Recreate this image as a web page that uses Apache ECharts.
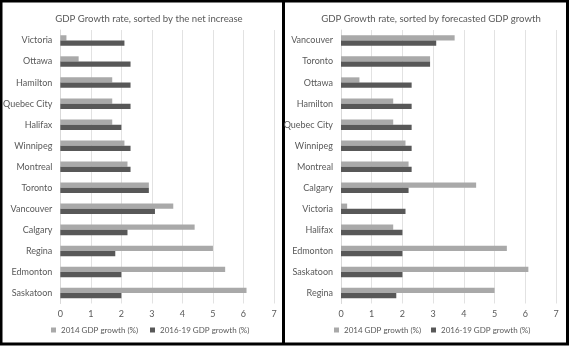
<!DOCTYPE html>
<html>
<head>
<meta charset="utf-8">
<script src="https://cdn.jsdelivr.net/npm/echarts@6/dist/echarts.min.js"></script>
<style>
  html, body { margin: 0; padding: 0; background: #fff; }
  #chart { width: 570px; height: 348px; }
</style>
</head>
<body>
<div id="chart"></div>
<script>
// City GDP growth: 2014 actual vs 2016-19 forecast, two sort orders
const seriesNames = ['2014 GDP growth (%)', '2016-19 GDP growth (%)'];

// Left panel: sorted by net increase
const citiesByIncrease = ['Victoria', 'Ottawa', 'Hamilton', 'Quebec City', 'Halifax', 'Winnipeg', 'Montreal',
  'Toronto', 'Vancouver', 'Calgary', 'Regina', 'Edmonton', 'Saskatoon'];
const growth2014ByIncrease = [0.2, 0.6, 1.7, 1.7, 1.7, 2.1, 2.2, 2.9, 3.7, 4.4, 5.0, 5.4, 6.1];
const growth1619ByIncrease = [2.1, 2.3, 2.3, 2.3, 2.0, 2.3, 2.3, 2.9, 3.1, 2.2, 1.8, 2.0, 2.0];

// Right panel: sorted by forecasted growth
const citiesByForecast = ['Vancouver', 'Toronto', 'Ottawa', 'Hamilton', 'Quebec City', 'Winnipeg', 'Montreal',
  'Calgary', 'Victoria', 'Halifax', 'Edmonton', 'Saskatoon', 'Regina'];
const growth2014ByForecast = [3.7, 2.9, 0.6, 1.7, 1.7, 2.1, 2.2, 4.4, 0.2, 1.7, 5.4, 6.1, 5.0];
const growth1619ByForecast = [3.1, 2.9, 2.3, 2.3, 2.3, 2.3, 2.3, 2.2, 2.1, 2.0, 2.0, 2.0, 1.8];

const titles = ['GDP Growth rate, sorted by the net increase', 'GDP Growth rate, sorted by forecasted GDP growth'];
const xTicks = [0, 1, 2, 3, 4, 5, 6, 7];

const LIGHT = '#a9a9a9';
const DARK = '#585858';
const TEXT = '#595959';
const FONT = 'Lato, "Open Sans", sans-serif';

const chart = echarts.init(document.getElementById('chart'), null, { renderer: 'canvas' });

function xAxisFor(gridIndex) {
  return {
    type: 'value', gridIndex, min: xTicks[0], max: xTicks[xTicks.length - 1], interval: 1,
    axisLine: { show: false }, axisTick: { show: false },
    axisLabel: { color: TEXT, fontSize: 9, fontFamily: FONT, margin: 6 },
    splitLine: { show: true, lineStyle: { color: '#e2e2e2', width: 1 } }
  };
}
function yAxisFor(gridIndex, cats) {
  return {
    type: 'category', gridIndex, data: cats, inverse: true,
    axisLine: { show: true, lineStyle: { color: '#d9d9d9' } }, axisTick: { show: false },
    axisLabel: { color: TEXT, fontSize: 9, fontFamily: FONT, margin: 8 }
  };
}
function barSeries(name, idx, data, color) {
  return {
    type: 'bar', name, xAxisIndex: idx, yAxisIndex: idx, data,
    itemStyle: { color }, barGap: '0%', barCategoryGap: '50%', silent: true
  };
}
// one legend entry per component so each can be placed on its own
function legendItem(name, left) {
  return {
    data: [name], left, top: 326, itemWidth: 5, itemHeight: 5, padding: 0,
    icon: 'rect', textStyle: { color: TEXT, fontSize: 8, fontFamily: FONT }, selectedMode: false
  };
}
function titleAt(text, center) {
  return {
    text, left: center, top: 9, textAlign: 'center',
    textStyle: { color: TEXT, fontSize: 9.6, fontWeight: 'normal', fontFamily: FONT }
  };
}

chart.setOption({
  animation: false,
  backgroundColor: '#fff',
  title: [titleAt(titles[0], 144), titleAt(titles[1], 426)],
  legend: [
    legendItem(seriesNames[0], 51), legendItem(seriesNames[1], 150),
    legendItem(seriesNames[0], 334), legendItem(seriesNames[1], 431)
  ],
  grid: [
    { left: 59, width: 215, top: 30, height: 273.5 },
    { left: 341, width: 215, top: 30, height: 273.5 }
  ],
  xAxis: [xAxisFor(0), xAxisFor(1)],
  yAxis: [yAxisFor(0, citiesByIncrease), yAxisFor(1, citiesByForecast)],
  series: [
    barSeries(seriesNames[0], 0, growth2014ByIncrease, LIGHT),
    barSeries(seriesNames[1], 0, growth1619ByIncrease, DARK),
    barSeries(seriesNames[0], 1, growth2014ByForecast, LIGHT),
    barSeries(seriesNames[1], 1, growth1619ByForecast, DARK)
  ],
  graphic: [
    { type: 'rect', shape: { x: 1, y: 1, width: 566.5, height: 343 }, silent: true,
      style: { fill: 'none', stroke: '#000', lineWidth: 3 } },
    { type: 'line', shape: { x1: 283.5, y1: 1, x2: 283.5, y2: 344 }, silent: true,
      style: { stroke: '#000', lineWidth: 3 } }
  ]
});
</script>
</body>
</html>
